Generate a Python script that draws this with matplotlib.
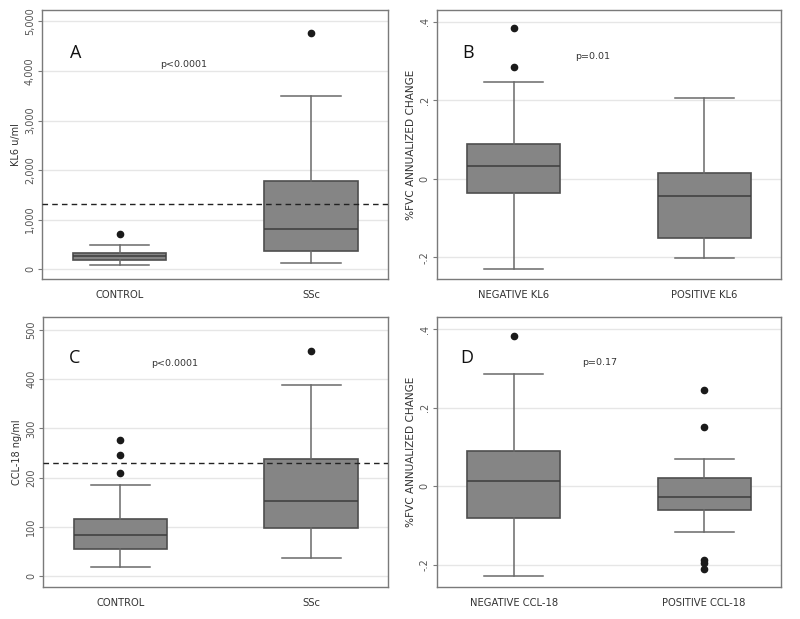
import matplotlib
matplotlib.use("Agg")
import matplotlib.pyplot as plt

# panel A: KL6 by group
a_labels = ["CONTROL", "SSc"]
a_stats = [
    dict(whislo=88, q1=189, med=256, q3=330, whishi=478, fliers=[714]),
    dict(whislo=121, q1=357, med=815, q3=1772, whishi=3497, fliers=[4771]),
]
a_cutoff = 1321

# panel B: FVC change by KL6
b_labels = ["NEGATIVE KL6", "POSITIVE KL6"]
b_stats = [
    dict(whislo=-0.229, q1=-0.037, med=0.031, q3=0.089, whishi=0.245, fliers=[0.284, 0.383]),
    dict(whislo=-0.202, q1=-0.151, med=-0.045, q3=0.014, whishi=0.205, fliers=[]),
]

# panel C: CCL-18 by group
c_labels = ["CONTROL", "SSc"]
c_stats = [
    dict(whislo=18, q1=55, med=84, q3=117, whishi=185, fliers=[210, 246, 277]),
    dict(whislo=37, q1=98, med=152, q3=237, whishi=389, fliers=[458]),
]
c_cutoff = 230

# panel D: FVC change by CCL-18
d_labels = ["NEGATIVE CCL-18", "POSITIVE CCL-18"]
d_stats = [
    dict(whislo=-0.228, q1=-0.080, med=0.014, q3=0.090, whishi=0.285, fliers=[0.384]),
    dict(whislo=-0.115, q1=-0.061, med=-0.027, q3=0.021, whishi=0.070,
         fliers=[0.152, 0.245, -0.188, -0.196, -0.209]),
]

fig = plt.figure(figsize=(8, 6.19), dpi=100)
fig.patch.set_facecolor("white")

boxfill = "#858585"
edge = "#4e4e4e"
whisk = "#6a6a6a"
grid_c = "#e6e6e6"
spine_c = "#7a7a7a"
txt_c = "#333333"


def panel(rect, stats, labels, ylabel, yticks, yticklabels, ylim,
          letter, letter_xy, ptext, p_xy, cutoff=None, ylab_size=7):
    ax = fig.add_axes(rect)
    for i, s in enumerate(stats):
        s["label"] = labels[i]
    ax.set_axisbelow(True)
    for y in yticks:
        ax.axhline(y, color=grid_c, lw=1.0, zorder=0)
    ax.bxp(stats, positions=[1, 2], widths=0.49, capwidths=0.31,
           patch_artist=True, showfliers=True,
           boxprops=dict(facecolor=boxfill, edgecolor=edge, linewidth=1.2),
           medianprops=dict(color="#3c3c3c", linewidth=1.1),
           whiskerprops=dict(color=whisk, linewidth=1.1),
           capprops=dict(color=whisk, linewidth=1.1),
           flierprops=dict(marker="o", markerfacecolor="#1a1a1a",
                           markeredgecolor="#1a1a1a", markersize=4.5))
    if cutoff is not None:
        ax.axhline(cutoff, color="#222222", lw=1.0, ls=(0, (4, 3)), zorder=5)
    ax.set_xlim(0.595, 2.403)
    ax.set_ylim(*ylim)
    ax.set_yticks(yticks)
    ax.set_yticklabels(yticklabels, rotation=90, va="center", fontsize=7, color="#555555")
    ax.set_xticks([1, 2])
    ax.set_xticklabels(labels, fontsize=7.2, color=txt_c)
    ax.tick_params(axis="x", length=0, pad=8)
    ax.tick_params(axis="y", length=3, color=spine_c, pad=2)
    for sp in ax.spines.values():
        sp.set_color(spine_c)
        sp.set_linewidth(1.0)
    ax.set_ylabel(ylabel, fontsize=ylab_size, color=txt_c, labelpad=3)
    ax.text(letter_xy[0], letter_xy[1], letter, transform=ax.transAxes,
            fontsize=13, color="#111111", ha="center", va="center",
            family="Open Sans")
    ax.text(p_xy[0], p_xy[1], ptext, transform=ax.transAxes,
            fontsize=6.8, color=txt_c, ha="center", va="center")
    return ax


panel([0.0525, 0.549, 0.4325, 0.4346], a_stats, a_labels, "KL6 u/ml",
      [0, 1000, 2000, 3000, 4000, 5000],
      ["0", "1,000", "2,000", "3,000", "4,000", "5,000"],
      (-202, 5229), "A", (0.096, 0.839), "p<0.0001", (0.41, 0.798),
      cutoff=a_cutoff)

panel([0.546, 0.549, 0.43, 0.4346], b_stats, b_labels, "%FVC ANNUALIZED CHANGE",
      [-0.2, 0, 0.2, 0.4], ["-.2", "0", ".2", ".4"],
      (-0.256, 0.429), "B", (0.092, 0.839), "p=0.01", (0.453, 0.826),
      ylab_size=7.6)

panel([0.054, 0.0517, 0.431, 0.436], c_stats, c_labels, "CCL-18 ng/ml",
      [0, 100, 200, 300, 400, 500], ["0", "100", "200", "300", "400", "500"],
      (-22, 526), "C", (0.092, 0.848), "p<0.0001", (0.382, 0.827),
      cutoff=c_cutoff)

panel([0.546, 0.0517, 0.43, 0.436], d_stats, d_labels, "%FVC ANNUALIZED CHANGE",
      [-0.2, 0, 0.2, 0.4], ["-.2", "0", ".2", ".4"],
      (-0.256, 0.431), "D", (0.087, 0.848), "p=0.17", (0.472, 0.832),
      ylab_size=7.6)

fig.savefig("out.png", dpi=100)
